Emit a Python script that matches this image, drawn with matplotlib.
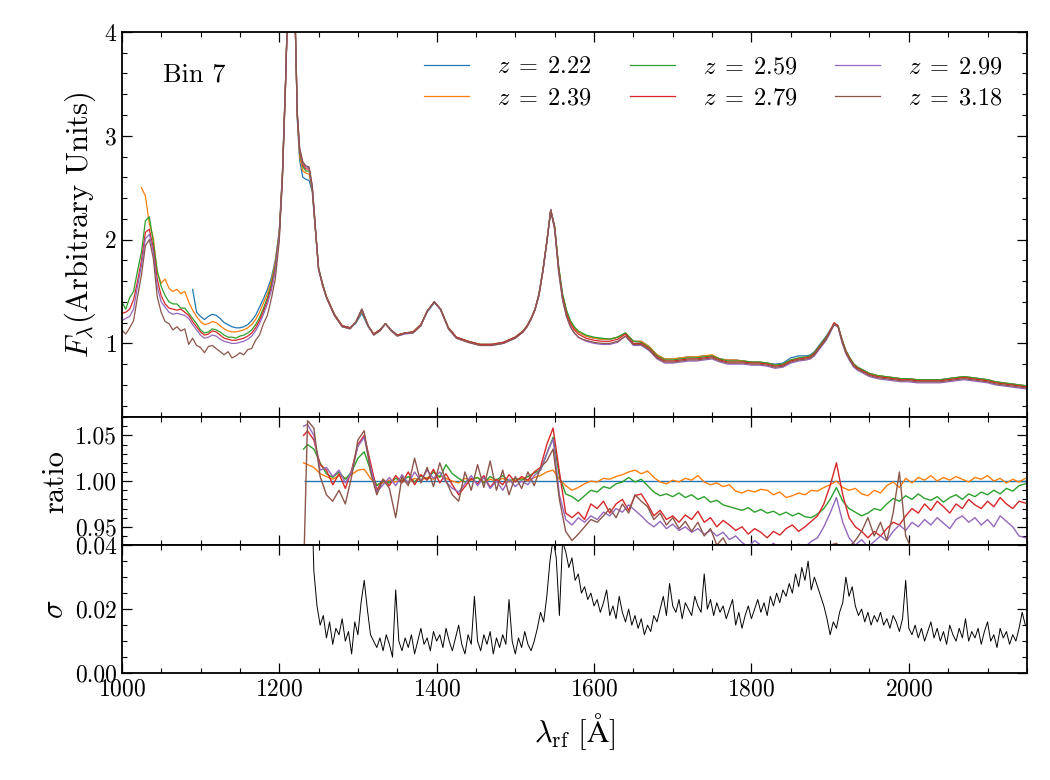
import numpy as np
import matplotlib
matplotlib.use('Agg')
import matplotlib.pyplot as plt
from matplotlib.ticker import MultipleLocator, AutoMinorLocator

# ------------------------------------------------------------
# data
# ------------------------------------------------------------
REDSHIFTS = ['2.22', '2.39', '2.59', '2.79', '2.99', '3.18']
COLORS = ['C0', 'C1', 'C2', 'C3', 'C4', 'C5']

# rest-frame wavelength grid of the stacked spectra
wave_top = np.concatenate([
    np.arange(1000, 1200, 5),
    [1200, 1204, 1208, 1211, 1214, 1217, 1220, 1223, 1226, 1230, 1234, 1238,
     1242, 1246, 1250, 1255],
    [1260, 1270, 1280, 1290, 1297, 1305, 1313, 1320, 1328, 1335, 1342, 1350,
     1360, 1370, 1380, 1388, 1397, 1405, 1415, 1425, 1440, 1455, 1470, 1485, 1500],
    np.arange(1505, 1601, 5),
    np.arange(1610, 1871, 10),
    np.arange(1875, 1941, 5),
    np.arange(1950, 2151, 10),
])

# z=2.22 starts at 1090 A, z=2.39 at 1025 A, others at 1000 A
flux_222 = [1.52, 1.30, 1.26, 1.23, 1.26, 1.28, 1.27, 1.24, 1.20, 1.18, 1.16,
            1.15, 1.15, 1.16, 1.18, 1.22, 1.27, 1.35, 1.43, 1.52, 1.63, 1.80,
            2.08, 2.63, 3.52, 4.30, 5.50, 5.80, 4.20, 3.15, 2.76, 2.60, 2.58,
            2.57, 2.46, 2.08, 1.71, 1.57,
            1.45, 1.28, 1.17, 1.15, 1.19, 1.29, 1.16, 1.09, 1.13, 1.19, 1.13,
            1.08, 1.10, 1.11, 1.18, 1.30, 1.39, 1.33, 1.15, 1.06, 1.02, 0.99,
            0.99, 1.01, 1.06,
            1.09, 1.12, 1.17, 1.24, 1.33, 1.48, 1.71, 1.98, 2.27, 2.11, 1.73,
            1.46, 1.31, 1.21, 1.15, 1.11, 1.09, 1.07, 1.06, 1.05,
            1.04, 1.04, 1.06, 1.10, 1.02, 1.02, 0.97, 0.89, 0.85, 0.85, 0.86,
            0.87, 0.87, 0.88, 0.88, 0.85, 0.84, 0.84, 0.83, 0.82, 0.82, 0.81,
            0.80, 0.81, 0.86, 0.88, 0.88,
            0.89, 0.92, 0.97, 1.02, 1.07, 1.13, 1.19, 1.17, 1.04, 0.93, 0.86,
            0.80, 0.77, 0.75,
            0.71, 0.69, 0.68, 0.67, 0.66, 0.66, 0.65, 0.65, 0.65, 0.65, 0.66,
            0.67, 0.68, 0.67, 0.66, 0.65, 0.63, 0.62, 0.61, 0.60, 0.59]

flux_239 = [2.50, 2.42, 2.15, 2.02, 1.68, 1.58, 1.62, 1.53, 1.50, 1.52, 1.48,
            1.50, 1.40, 1.32, 1.26, 1.21, 1.18, 1.19, 1.21, 1.20, 1.17, 1.14,
            1.12, 1.11, 1.11, 1.12, 1.13, 1.15, 1.18, 1.23, 1.30, 1.39, 1.48,
            1.60, 1.78,
            2.06, 2.61, 3.51, 4.30, 5.50, 5.80, 4.20, 3.18, 2.80, 2.66, 2.64,
            2.63, 2.48, 2.09, 1.72, 1.57,
            1.45, 1.28, 1.17, 1.15, 1.20, 1.31, 1.17, 1.09, 1.13, 1.19, 1.13,
            1.08, 1.10, 1.11, 1.18, 1.31, 1.40, 1.33, 1.15, 1.06, 1.02, 0.99,
            0.99, 1.01, 1.06,
            1.09, 1.12, 1.17, 1.24, 1.33, 1.47, 1.70, 1.98, 2.28, 2.12, 1.73,
            1.46, 1.31, 1.21, 1.15, 1.11, 1.09, 1.07, 1.06, 1.05,
            1.04, 1.04, 1.06, 1.10, 1.02, 1.02, 0.97, 0.89, 0.85, 0.85, 0.86,
            0.87, 0.87, 0.88, 0.89, 0.85, 0.84, 0.84, 0.83, 0.82, 0.82, 0.81,
            0.79, 0.80, 0.84, 0.86, 0.87,
            0.88, 0.91, 0.96, 1.01, 1.06, 1.12, 1.19, 1.17, 1.04, 0.93, 0.86,
            0.80, 0.77, 0.75,
            0.71, 0.69, 0.68, 0.67, 0.66, 0.66, 0.65, 0.65, 0.65, 0.65, 0.66,
            0.67, 0.68, 0.67, 0.66, 0.65, 0.63, 0.62, 0.61, 0.60, 0.59]

flux_259 = [1.40, 1.33, 1.44, 1.50, 1.70, 1.88, 2.18, 2.22, 1.98, 1.70, 1.55,
            1.46, 1.40, 1.38, 1.38, 1.34, 1.34, 1.29, 1.24, 1.19, 1.13, 1.10,
            1.11, 1.14, 1.13, 1.11, 1.08, 1.06, 1.06, 1.05, 1.07, 1.08, 1.10,
            1.13, 1.18, 1.25, 1.34, 1.44, 1.57, 1.75,
            2.05, 2.61, 3.50, 4.30, 5.50, 5.80, 4.20, 3.19, 2.83, 2.70, 2.66,
            2.66, 2.49, 2.10, 1.73, 1.58,
            1.45, 1.28, 1.17, 1.15, 1.20, 1.32, 1.17, 1.09, 1.13, 1.19, 1.13,
            1.08, 1.10, 1.11, 1.18, 1.31, 1.40, 1.33, 1.15, 1.06, 1.02, 0.99,
            0.99, 1.01, 1.06,
            1.09, 1.12, 1.17, 1.24, 1.33, 1.47, 1.70, 1.98, 2.29, 2.13, 1.75,
            1.48, 1.32, 1.22, 1.16, 1.12, 1.10, 1.08, 1.07, 1.06,
            1.05, 1.04, 1.06, 1.10, 1.02, 1.01, 0.96, 0.88, 0.84, 0.84, 0.85,
            0.86, 0.86, 0.87, 0.88, 0.85, 0.83, 0.83, 0.83, 0.82, 0.82, 0.81,
            0.79, 0.80, 0.84, 0.86, 0.87,
            0.88, 0.91, 0.96, 1.01, 1.06, 1.12, 1.19, 1.17, 1.04, 0.93, 0.86,
            0.80, 0.77, 0.75,
            0.71, 0.69, 0.68, 0.67, 0.66, 0.66, 0.65, 0.65, 0.65, 0.65, 0.66,
            0.67, 0.68, 0.67, 0.66, 0.65, 0.63, 0.62, 0.61, 0.60, 0.59]

flux_279 = [1.29, 1.30, 1.33, 1.42, 1.60, 1.80, 2.07, 2.10, 1.92, 1.62, 1.46,
            1.38, 1.34, 1.33, 1.32, 1.33, 1.30, 1.27, 1.21, 1.16, 1.11, 1.08,
            1.09, 1.12, 1.11, 1.08, 1.05, 1.04, 1.03, 1.03, 1.04, 1.05, 1.07,
            1.10, 1.15, 1.22, 1.31, 1.41, 1.54, 1.72,
            2.03, 2.60, 3.50, 4.30, 5.50, 5.80, 4.20, 3.20, 2.85, 2.72, 2.68,
            2.68, 2.50, 2.10, 1.72, 1.57,
            1.45, 1.28, 1.17, 1.15, 1.20, 1.33, 1.17, 1.09, 1.13, 1.19, 1.13,
            1.08, 1.10, 1.11, 1.18, 1.31, 1.40, 1.33, 1.15, 1.06, 1.02, 0.99,
            0.99, 1.01, 1.06,
            1.09, 1.12, 1.17, 1.24, 1.33, 1.47, 1.70, 1.98, 2.29, 2.12, 1.72,
            1.45, 1.29, 1.19, 1.13, 1.09, 1.07, 1.05, 1.04, 1.03,
            1.02, 1.02, 1.04, 1.09, 1.00, 1.00, 0.95, 0.87, 0.83, 0.83, 0.84,
            0.85, 0.85, 0.86, 0.87, 0.84, 0.82, 0.82, 0.82, 0.81, 0.81, 0.80,
            0.78, 0.79, 0.83, 0.85, 0.86,
            0.87, 0.90, 0.95, 1.00, 1.05, 1.12, 1.20, 1.17, 1.03, 0.92, 0.85,
            0.79, 0.76, 0.74,
            0.70, 0.68, 0.67, 0.66, 0.65, 0.65, 0.64, 0.64, 0.64, 0.64, 0.65,
            0.66, 0.67, 0.66, 0.65, 0.64, 0.62, 0.61, 0.60, 0.59, 0.58]

flux_299 = [1.22, 1.24, 1.26, 1.33, 1.55, 1.75, 2.01, 2.05, 1.88, 1.55, 1.40,
            1.35, 1.30, 1.28, 1.29, 1.28, 1.27, 1.24, 1.18, 1.13, 1.08, 1.05,
            1.06, 1.08, 1.07, 1.04, 1.02, 1.01, 1.00, 1.00, 1.01, 1.02, 1.04,
            1.07, 1.12, 1.19, 1.28, 1.38, 1.51, 1.70,
            2.02, 2.58, 3.48, 4.30, 5.50, 5.80, 4.20, 3.22, 2.87, 2.74, 2.70,
            2.69, 2.51, 2.11, 1.72, 1.56,
            1.44, 1.27, 1.16, 1.14, 1.20, 1.33, 1.17, 1.08, 1.12, 1.19, 1.13,
            1.07, 1.09, 1.10, 1.17, 1.31, 1.40, 1.32, 1.14, 1.05, 1.01, 0.98,
            0.98, 1.00, 1.05,
            1.08, 1.11, 1.16, 1.23, 1.32, 1.46, 1.69, 1.97, 2.29, 2.10, 1.69,
            1.42, 1.26, 1.16, 1.10, 1.06, 1.04, 1.02, 1.01, 1.00,
            0.99, 0.99, 1.01, 1.07, 0.98, 0.98, 0.93, 0.85, 0.81, 0.81, 0.82,
            0.83, 0.83, 0.84, 0.85, 0.82, 0.80, 0.80, 0.80, 0.79, 0.79, 0.78,
            0.76, 0.77, 0.81, 0.83, 0.84,
            0.85, 0.88, 0.93, 0.98, 1.03, 1.10, 1.18, 1.16, 1.01, 0.90, 0.83,
            0.77, 0.74, 0.72,
            0.68, 0.66, 0.65, 0.64, 0.63, 0.63, 0.62, 0.62, 0.62, 0.62, 0.63,
            0.64, 0.65, 0.64, 0.63, 0.62, 0.60, 0.59, 0.58, 0.57, 0.56]

flux_318 = [1.13, 1.09, 1.15, 1.22, 1.45, 1.66, 1.94, 2.00, 1.82, 1.45, 1.30,
            1.21, 1.19, 1.13, 1.16, 1.12, 1.14, 0.99, 1.05, 0.98, 0.96, 0.91,
            0.97, 0.98, 0.95, 0.92, 0.89, 0.92, 0.86, 0.88, 0.91, 0.89, 0.94,
            0.95, 1.03, 1.08, 1.19, 1.27, 1.43, 1.62,
            1.98, 2.56, 3.47, 4.30, 5.50, 5.80, 4.20, 3.22, 2.88, 2.75, 2.71,
            2.70, 2.52, 2.12, 1.72, 1.56,
            1.44, 1.27, 1.16, 1.14, 1.20, 1.33, 1.17, 1.08, 1.12, 1.19, 1.12,
            1.07, 1.10, 1.10, 1.17, 1.31, 1.40, 1.33, 1.14, 1.05, 1.01, 0.98,
            0.98, 1.00, 1.05,
            1.08, 1.11, 1.16, 1.23, 1.32, 1.46, 1.69, 1.97, 2.28, 2.10, 1.70,
            1.42, 1.26, 1.16, 1.10, 1.06, 1.04, 1.03, 1.02, 1.01,
            1.00, 1.00, 1.02, 1.07, 0.99, 0.99, 0.94, 0.86, 0.82, 0.82, 0.83,
            0.84, 0.84, 0.85, 0.86, 0.83, 0.81, 0.81, 0.81, 0.80, 0.80, 0.79,
            0.77, 0.78, 0.82, 0.84, 0.85,
            0.86, 0.89, 0.94, 0.99, 1.04, 1.11, 1.18, 1.16, 1.02, 0.91, 0.84,
            0.78, 0.75, 0.73,
            0.69, 0.67, 0.66, 0.65, 0.64, 0.64, 0.63, 0.63, 0.63, 0.63, 0.64,
            0.65, 0.66, 0.65, 0.64, 0.63, 0.61, 0.60, 0.59, 0.58, 0.57]

# ratio to the z=2.22 spectrum (z=2.22 itself is 1 everywhere)
wave_ratio = np.concatenate([[1231], np.arange(1236, 2149, 8)])
ratio_start, ratio_end = 1231, 2150

ratio_239 = [1.020,
             1.018, 1.015, 1.008, 1.005, 1.002, 1.006, 1.003, 1.007, 1.012, 1.013,
             1.003, 0.996, 0.998, 1.001, 0.999, 1.002, 0.998, 1.003, 1.001, 1.004,
             1.002, 1.006, 1.003, 1.000, 0.998, 1.003, 1.001, 1.004, 0.999, 1.002,
             1.000, 1.003, 0.999, 1.001, 1.003, 1.000, 1.004, 1.006, 1.010, 1.012,
             1.002, 0.995, 0.990, 0.993, 0.997, 1.000, 0.999, 1.003, 1.002, 1.005,
             1.007, 1.010, 1.012, 1.008, 1.011, 1.004, 0.999, 0.997, 1.001, 0.999,
             1.003, 1.001, 1.006, 0.999, 0.996, 0.998, 0.994, 0.996, 0.989, 0.987,
             0.990, 0.988, 0.991, 0.990, 0.985, 0.988, 0.982, 0.984, 0.987, 0.985,
             0.990, 0.989, 0.993, 0.996, 1.000, 0.993, 0.990, 0.992, 0.986, 0.984,
             0.990, 0.987, 0.995, 0.999, 0.993, 1.003, 0.998, 1.004, 1.001, 1.006,
             1.000, 1.004, 1.001, 1.005, 1.002, 0.999, 1.004, 1.002, 1.006, 1.000,
             1.003, 0.998, 1.002, 0.999, 1.003]

ratio_259 = [1.035,
             1.040, 1.035, 1.020, 1.008, 1.004, 1.010, 1.002, 1.010, 1.025, 1.032,
             1.012, 0.995, 1.000, 0.998, 1.003, 1.000, 1.005, 0.999, 1.006, 1.002,
             1.010, 1.004, 1.018, 1.008, 1.003, 0.999, 1.002, 1.004, 0.998, 1.005,
             1.001, 1.006, 1.000, 1.003, 1.001, 1.005, 1.009, 1.012, 1.030, 1.048,
             1.005, 0.986, 0.983, 0.978, 0.984, 0.990, 0.988, 0.994, 0.992, 0.997,
             0.999, 1.004, 0.999, 1.002, 0.995, 0.988, 0.984, 0.986, 0.983, 0.987,
             0.982, 0.985, 0.980, 0.983, 0.977, 0.979, 0.974, 0.972, 0.970, 0.968,
             0.971, 0.966, 0.969, 0.965, 0.967, 0.963, 0.966, 0.962, 0.965, 0.961,
             0.960, 0.964, 0.970, 0.980, 0.993, 0.978, 0.970, 0.966, 0.962, 0.965,
             0.970, 0.968, 0.975, 0.981, 0.978, 0.984, 0.980, 0.986, 0.981, 0.979,
             0.983, 0.977, 0.982, 0.985, 0.980, 0.986, 0.983, 0.988, 0.985, 0.990,
             0.986, 0.992, 0.989, 0.995, 0.997]

ratio_279 = [1.050,
             1.055, 1.045, 1.018, 1.012, 0.996, 1.008, 0.992, 1.012, 1.040, 1.050,
             1.020, 0.990, 1.002, 0.995, 1.006, 0.998, 1.010, 0.996, 1.007, 1.001,
             1.013, 0.998, 1.008, 0.996, 0.985, 0.994, 1.003, 0.997, 1.006, 0.993,
             1.002, 0.996, 1.007, 0.999, 1.005, 1.001, 1.010, 1.015, 1.040, 1.058,
             1.010, 0.965, 0.960, 0.966, 0.958, 0.975, 0.970, 0.978, 0.965, 0.975,
             0.980, 0.968, 0.984, 0.986, 0.975, 0.962, 0.968, 0.958, 0.962, 0.955,
             0.963, 0.958, 0.967, 0.955, 0.960, 0.950, 0.957, 0.952, 0.946, 0.950,
             0.942, 0.948, 0.944, 0.938, 0.945, 0.941, 0.948, 0.952, 0.945, 0.950,
             0.956, 0.962, 0.975, 0.995, 1.020, 0.985, 0.960, 0.950, 0.945, 0.938,
             0.945, 0.940, 0.948, 0.955, 0.952, 0.962, 0.970, 0.965, 0.975, 0.968,
             0.978, 0.972, 0.965, 0.975, 0.970, 0.980, 0.974, 0.970, 0.978, 0.972,
             0.982, 0.975, 0.970, 0.978, 0.976]

ratio_299 = [1.060,
             1.062, 1.050, 1.012, 1.015, 1.005, 1.012, 0.998, 1.010, 1.038, 1.048,
             1.015, 0.988, 0.996, 1.004, 0.995, 1.007, 0.998, 1.010, 1.000, 1.012,
             1.003, 1.010, 0.999, 0.992, 0.988, 0.997, 1.006, 0.995, 1.004, 0.992,
             1.000, 0.990, 1.002, 0.994, 1.000, 0.996, 1.006, 1.012, 1.030, 1.046,
             0.985, 0.958, 0.952, 0.960, 0.955, 0.962, 0.958, 0.966, 0.962, 0.970,
             0.966, 0.974, 0.968, 0.962, 0.955, 0.950, 0.956, 0.948, 0.953, 0.946,
             0.950, 0.944, 0.948, 0.942, 0.946, 0.940, 0.944, 0.936, 0.940, 0.933,
             0.928, 0.935, 0.930, 0.926, 0.932, 0.927, 0.930, 0.925, 0.931, 0.928,
             0.934, 0.938, 0.950, 0.965, 0.982, 0.955, 0.938, 0.930, 0.936, 0.928,
             0.934, 0.940, 0.935, 0.945, 0.952, 0.946, 0.955, 0.950, 0.958, 0.952,
             0.960, 0.954, 0.948, 0.958, 0.962, 0.955, 0.960, 0.952, 0.958, 0.950,
             0.962, 0.956, 0.950, 0.940, 0.938]

ratio_318 = [0.900,
             1.066, 1.058, 1.005, 0.985, 0.978, 0.990, 0.975, 1.005, 1.045, 1.055,
             1.010, 0.985, 1.002, 0.992, 0.960, 1.005, 0.995, 1.025, 0.998, 1.015,
             0.994, 1.020, 1.000, 0.985, 0.978, 1.010, 0.990, 1.018, 0.993, 1.022,
             0.990, 1.012, 0.985, 1.005, 0.992, 1.010, 0.995, 1.015, 1.022, 1.035,
             0.980, 0.945, 0.935, 0.942, 0.950, 0.958, 0.955, 0.962, 0.970, 0.960,
             0.975, 0.965, 0.985, 0.978, 0.972, 0.958, 0.965, 0.952, 0.960, 0.948,
             0.956, 0.945, 0.955, 0.940, 0.948, 0.930, 0.938, 0.925, 0.928, 0.920,
             0.925, 0.918, 0.922, 0.915, 0.920, 0.912, 0.918, 0.914, 0.920, 0.916,
             0.922, 0.918, 0.925, 0.930, 0.932, 0.925, 0.928, 0.935, 0.945, 0.960,
             0.940, 0.955, 0.935, 0.965, 1.010, 0.940, 0.925, 0.918, 0.915, 0.912,
             0.910, 0.914, 0.908, 0.912, 0.909, 0.913, 0.907, 0.911, 0.908, 0.912,
             0.909, 0.913, 0.907, 0.910, 0.908]

# scatter between the redshift bins
wave_sigma = np.concatenate([[1242], np.arange(1244, 2149, 4)])
sigma = [0.050,
         0.032, 0.021, 0.015, 0.018, 0.011, 0.016, 0.009, 0.014, 0.012, 0.017,
         0.010, 0.013, 0.006, 0.016, 0.012, 0.022, 0.029, 0.020, 0.012, 0.010,
         0.008, 0.011, 0.007, 0.012, 0.009, 0.005, 0.026, 0.010, 0.007, 0.011,
         0.008, 0.012, 0.006, 0.010, 0.014, 0.009, 0.011, 0.007, 0.013, 0.010,
         0.012, 0.008, 0.014, 0.010, 0.007, 0.011, 0.015, 0.009, 0.006, 0.012,
         0.009, 0.024, 0.010, 0.007, 0.012, 0.009, 0.013, 0.006, 0.011, 0.008,
         0.012, 0.009, 0.023, 0.010, 0.006, 0.011, 0.008, 0.013, 0.009, 0.007,
         0.010, 0.014, 0.019, 0.016, 0.024, 0.035, 0.042, 0.036, 0.018, 0.041,
         0.038, 0.033, 0.036, 0.029, 0.031, 0.025, 0.027, 0.023, 0.025, 0.021,
         0.023, 0.019, 0.022, 0.026, 0.018, 0.021, 0.017, 0.024, 0.019, 0.016,
         0.020, 0.015, 0.018, 0.014, 0.017, 0.012, 0.015, 0.013, 0.018, 0.016,
         0.020, 0.024, 0.018, 0.028, 0.021, 0.019, 0.023, 0.017, 0.022, 0.020,
         0.018, 0.024, 0.021, 0.019, 0.031, 0.020, 0.023, 0.018, 0.022, 0.019,
         0.021, 0.017, 0.020, 0.023, 0.015, 0.019, 0.014, 0.018, 0.021, 0.017,
         0.020, 0.023, 0.019, 0.022, 0.018, 0.024, 0.021, 0.025, 0.022, 0.026,
         0.024, 0.028, 0.025, 0.031, 0.027, 0.033, 0.029, 0.035, 0.026, 0.030,
         0.027, 0.024, 0.021, 0.017, 0.012, 0.016, 0.014, 0.019, 0.022, 0.030,
         0.024, 0.027, 0.021, 0.018, 0.020, 0.016, 0.019, 0.015, 0.018, 0.016,
         0.019, 0.015, 0.017, 0.014, 0.018, 0.016, 0.013, 0.017, 0.029, 0.014,
         0.012, 0.015, 0.011, 0.014, 0.010, 0.013, 0.016, 0.011, 0.014, 0.010,
         0.013, 0.009, 0.015, 0.012, 0.010, 0.014, 0.011, 0.017, 0.010, 0.013,
         0.011, 0.014, 0.009, 0.013, 0.016, 0.010, 0.012, 0.008, 0.014, 0.011,
         0.013, 0.009, 0.012, 0.010, 0.014, 0.019, 0.015]


# ============================================================
# style
# ============================================================
plt.rcParams.update({
    'font.family': 'serif',
    'font.serif': ['cmr10', 'DejaVu Serif'],
    'mathtext.fontset': 'cm',
    'axes.formatter.use_mathtext': True,
    'axes.linewidth': 1.3,
    'xtick.direction': 'in', 'ytick.direction': 'in',
    'xtick.top': True, 'ytick.right': True,
    'xtick.major.size': 7, 'ytick.major.size': 7,
    'xtick.minor.size': 3.6, 'ytick.minor.size': 3.6,
    'xtick.major.width': 0.9, 'ytick.major.width': 0.9,
    'xtick.minor.width': 0.8, 'ytick.minor.width': 0.8,
    'xtick.labelsize': 17, 'ytick.labelsize': 17,
})


def style_axis(ax, major, minor_n):
    ax.yaxis.set_major_locator(MultipleLocator(major))
    ax.yaxis.set_minor_locator(AutoMinorLocator(minor_n))
    ax.xaxis.set_major_locator(MultipleLocator(200))
    ax.xaxis.set_minor_locator(AutoMinorLocator(4))


def main():
    fig, (ax0, ax1, ax2) = plt.subplots(
        3, 1, sharex=True, figsize=(10.5, 7.8), dpi=100,
        gridspec_kw={'height_ratios': [385, 128, 128], 'hspace': 0})
    fig.subplots_adjust(left=0.116, right=0.978, top=0.959, bottom=0.137)

    # ---- top: stacked spectra ----
    fluxes = [flux_222, flux_239, flux_259, flux_279, flux_299, flux_318]
    for z, c, f in zip(REDSHIFTS, COLORS, fluxes):
        ax0.plot(wave_top[-len(f):], f, color=c, lw=0.9,
                 label=r'$z\;=\;' + z + '$')
    ax0.set_ylim(0.29, 4.0)
    ax0.set_ylabel(r'$F_\lambda$(Arbitrary Units)', fontsize=22)
    ax0.text(0.045, 0.89, 'Bin 7', transform=ax0.transAxes,
             fontsize=19, ha='left', va='center')
    ax0.legend(loc='upper right', ncol=3, frameon=False, fontsize=17.5,
               handlelength=1.85, handletextpad=1.15, columnspacing=1.55,
               labelspacing=0.35, borderaxespad=0.6)
    style_axis(ax0, 1, 5)

    # ---- middle: ratio to lowest-z spectrum ----
    ax1.hlines(1.0, ratio_start, ratio_end, color=COLORS[0], lw=1.0)
    ratios = [ratio_239, ratio_259, ratio_279, ratio_299, ratio_318]
    for c, r in zip(COLORS[1:], ratios):
        ax1.plot(wave_ratio, r, color=c, lw=1.0)
    ax1.set_ylim(0.93, 1.07)
    ax1.set_ylabel('ratio', fontsize=22)
    style_axis(ax1, 0.05, 5)
    ax1.yaxis.set_major_formatter(plt.FormatStrFormatter('%.2f'))

    # ---- bottom: scatter ----
    ax2.plot(wave_sigma, sigma, color='k', lw=0.7)
    ax2.set_ylim(0.0, 0.04)
    ax2.set_ylabel(r'$\sigma$', fontsize=22)
    style_axis(ax2, 0.02, 4)
    ax2.yaxis.set_major_formatter(plt.FormatStrFormatter('%.2f'))

    ax2.set_xlim(1000, 2150)
    ax2.set_xlabel(r'$\lambda_{\rm rf}\ [\mathrm{\AA}]$', fontsize=22,
                   labelpad=8)

    fig.savefig('out.png', dpi=100)
    plt.close(fig)


if __name__ == '__main__':
    main()
